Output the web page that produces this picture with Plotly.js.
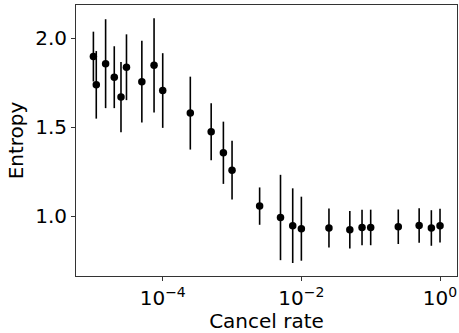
<!DOCTYPE html>
<html>
<head>
<meta charset="utf-8">
<script src="https://cdn.plot.ly/plotly-3.0.1.min.js"></script>
<style>html,body{margin:0;padding:0;background:#fff;}#chart{width:459px;height:333px;}</style>
</head>
<body>
<div id="chart"></div>
<script>
const cancelRate = [1e-5, 1.1e-5, 1.5e-5, 2e-5, 2.5e-5, 3e-5, 5e-5, 7.5e-5, 1e-4,
  2.5e-4, 5e-4, 7.5e-4, 1e-3, 2.5e-3, 5e-3, 7.5e-3, 1e-2,
  2.5e-2, 5e-2, 7.5e-2, 0.1, 0.25, 0.5, 0.75, 1];
const entropy = [1.897, 1.738, 1.857, 1.781, 1.669, 1.837, 1.756, 1.848, 1.706,
  1.579, 1.474, 1.356, 1.258, 1.056, 0.992, 0.946, 0.929,
  0.933, 0.923, 0.936, 0.936, 0.940, 0.947, 0.933, 0.946];
const entropyErr = [0.14, 0.19, 0.25, 0.174, 0.197, 0.185, 0.23, 0.265, 0.21,
  0.205, 0.16, 0.175, 0.165, 0.105, 0.24, 0.21, 0.18,
  0.11, 0.105, 0.10, 0.10, 0.097, 0.097, 0.10, 0.095];
const xTickVals = [1e-4, 1e-2, 1];
const xTickText = ['10<sup>\u22124</sup>', '10<sup>\u22122</sup>', '10<sup>0</sup>'];
const yTickVals = [1.0, 1.5, 2.0];
const yTickText = ['1.0', '1.5', '2.0'];

const font = {family: 'DejaVu Sans, sans-serif', size: 20, color: '#000'};

Plotly.newPlot('chart', [{
  x: cancelRate, y: entropy, type: 'scatter', mode: 'markers',
  marker: {color: '#000', size: 7.5},
  error_y: {type: 'data', array: entropyErr, visible: true, color: '#000', thickness: 1.6, width: 0}
}], {
  width: 459, height: 333,
  margin: {l: 76, r: 2, t: 5, b: 57},
  paper_bgcolor: '#fff', plot_bgcolor: '#fff',
  font: font, showlegend: false,
  xaxis: {
    type: 'log', range: [-5.251, 0.245], tickmode: 'array', tickvals: xTickVals, ticktext: xTickText,
    showgrid: false, zeroline: false, showline: true, mirror: true, linecolor: '#333', linewidth: 1,
    ticks: 'outside', ticklen: 4, tickcolor: '#333', tickfont: font,
    title: {text: 'Cancel rate', font: font, standoff: 4}, automargin: false
  },
  yaxis: {
    range: [0.663, 2.187], tickmode: 'array', tickvals: yTickVals, ticktext: yTickText,
    showgrid: false, zeroline: false, showline: true, mirror: true, linecolor: '#333', linewidth: 1,
    ticks: 'outside', ticklen: 4, tickcolor: '#333', tickfont: font,
    title: {text: 'Entropy', font: font, standoff: 6}, automargin: false
  }
}, {displayModeBar: false, staticPlot: true});
</script>
</body>
</html>
